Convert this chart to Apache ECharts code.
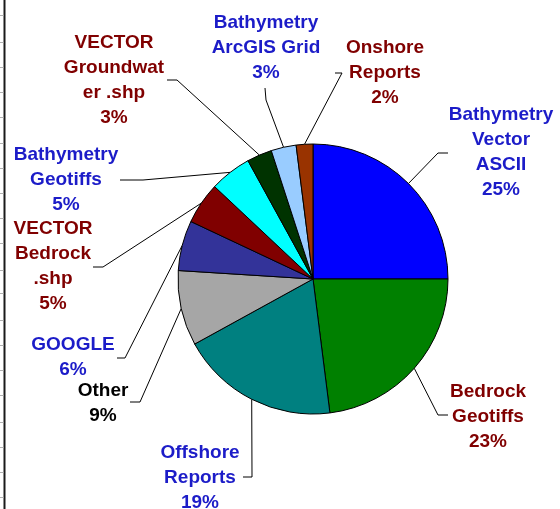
<!DOCTYPE html>
<html>
<head>
<meta charset="utf-8">
<script src="https://cdn.jsdelivr.net/npm/echarts@6/dist/echarts.min.js"></script>
<style>
  html, body { margin: 0; padding: 0; background: #ffffff; }
  #chart { width: 560px; height: 509px; }
</style>
</head>
<body>
<div id="chart"></div>
<script>
// ---- data ----
const categories = [
  'Bathymetry\nVector\nASCII',
  'Bedrock\nGeotiffs',
  'Offshore\nReports',
  'Other',
  'GOOGLE',
  'VECTOR\nBedrock\n.shp',
  'Bathymetry\nGeotiffs',
  'VECTOR\nGroundwat\ner .shp',
  'Bathymetry\nArcGIS Grid',
  'Onshore\nReports'
];
const values = [25, 23, 19, 9, 6, 5, 5, 3, 3, 2];
const sliceColors = ['#0000ff', '#008000', '#008080', '#a6a6a6', '#333399',
                     '#800000', '#00ffff', '#003300', '#99ccff', '#993300'];
const labelColors = ['#1c1cc8', '#800000', '#1c1cc8', '#000000', '#1c1cc8',
                     '#800000', '#1c1cc8', '#800000', '#1c1cc8', '#800000'];

// ---- label layout (text centre, leader elbow, leader end) ----
const labelCenter = [[501,152],[488,417],[200,478],[103,403],[73,357],
                     [53,266],[66,180],[114,80],[266,48],[385,73]];
const leaderElbow = [[438,153],[438,415],[252,477],[140,402],[125,358],
                     [103,267],[143,180],[177,80],[266,100],[342,73]];
const leaderEnd   = [[448,153],[448,415],[243,477],[130,402],[117,358],
                     [93,267],[120,180],[167,80],[265,88],[335,73]];
const sideTicks = [15,42,67,92,117,143,168,193,218,243,270,293,320,345,370,395,422,447,472,497];

const chart = echarts.init(document.getElementById('chart'), null, {renderer: 'canvas'});

const pieData = categories.map((c, i) => ({
  name: c,
  value: values[i],
  itemStyle: { color: sliceColors[i] },
  label: { color: labelColors[i] }
}));

const graphics = [{
  type: 'line',
  shape: { x1: 4.5, y1: 0, x2: 4.5, y2: 509 },
  style: { stroke: '#1a1a1a', lineWidth: 2 }
}].concat(sideTicks.map(y => ({
  type: 'line',
  shape: { x1: 0, y1: y + 0.5, x2: 3.5, y2: y + 0.5 },
  style: { stroke: '#b0b0b0', lineWidth: 1 }
})));

chart.setOption({
  backgroundColor: '#ffffff',
  animation: false,
  graphic: graphics,
  series: [{
    type: 'pie',
    center: [313, 279],
    radius: 135,
    startAngle: 90,
    clockwise: true,
    avoidLabelOverlap: false,
    data: pieData,
    itemStyle: { borderColor: '#000000', borderWidth: 1 },
    label: {
      show: true,
      position: 'outside',
      formatter: p => p.name + '\n' + p.value + '%',
      fontFamily: '"Liberation Sans", Arial, sans-serif',
      fontWeight: 'bold',
      fontSize: 19,
      lineHeight: 25,
      align: 'center'
    },
    labelLine: {
      show: true,
      length: 10,
      length2: 10,
      lineStyle: { color: '#000000', width: 1 }
    },
    emphasis: { disabled: true },
    labelLayout: function (params) {
      const i = params.dataIndex;
      const start = params.labelLinePoints ? params.labelLinePoints[0] : leaderElbow[i];
      return {
        x: labelCenter[i][0],
        y: labelCenter[i][1],
        align: 'center',
        verticalAlign: 'middle',
        labelLinePoints: [start, leaderElbow[i], leaderEnd[i]]
      };
    }
  }]
});
</script>
</body>
</html>
